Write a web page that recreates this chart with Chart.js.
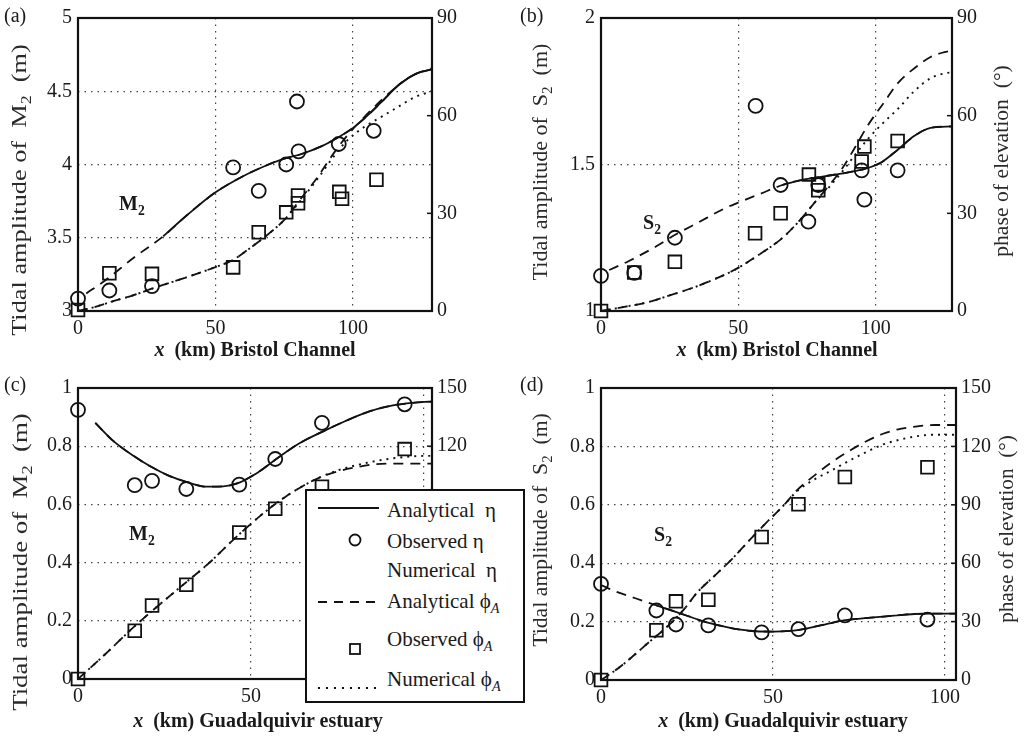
<!DOCTYPE html>
<html>
<head>
<meta charset="utf-8">
<title>Tidal amplitude and phase - Bristol Channel / Guadalquivir</title>
<script src="https://cdn.jsdelivr.net/npm/chart.js@4.4.1/dist/chart.umd.min.js"></script>
<style>
  body { margin:0; background:#fff; }
  #wrap { position:relative; width:1029px; height:737px; overflow:hidden;
          font-family:'Liberation Serif','Times New Roman',serif; color:#1a1a1a; }
  canvas { position:absolute; }
  .t { position:absolute; white-space:nowrap; line-height:1; }
  .sub { font-size:0.68em; position:relative; top:0.38em; }
  .ylab { font-size:21px; color:#2a2a2a; }
  .xlab { font-size:20px; font-weight:bold; }
  .tag { font-size:20px; }
  .ann { font-size:20px; font-weight:bold; }
  #legend { position:absolute; left:305px; top:489px; width:220px; height:214px; box-sizing:border-box;
            border:2px solid #111; background:#fff; }
  #legend .t { font-size:21px; }
</style>
</head>
<body>
<div id="wrap">
  <canvas id="pa" width="515" height="370" style="left:0;top:0"></canvas>
  <canvas id="pb" width="514" height="370" style="left:515px;top:0"></canvas>
  <canvas id="pc" width="515" height="367" style="left:0;top:370px"></canvas>
  <canvas id="pd" width="514" height="367" style="left:515px;top:370px"></canvas>

  <div class="t tag" style="left:4px;top:5px">(a)</div>
  <div class="t tag" style="left:520px;top:5px">(b)</div>
  <div class="t tag" style="left:4px;top:374px">(c)</div>
  <div class="t tag" style="left:520px;top:374px">(d)</div>

  <div class="t ylab" data-c="19,190" data-len="292">Tidal amplitude of&nbsp; M<span class="sub">2</span>&nbsp; (m)</div>
  <div class="t ylab" data-c="540,162" data-len="237">Tidal amplitude of&nbsp; S<span class="sub">2</span>&nbsp; (m)</div>
  <div class="t ylab" data-c="20,562" data-len="298">Tidal amplitude of&nbsp; M<span class="sub">2</span>&nbsp; (m)</div>
  <div class="t ylab" data-c="540,530" data-len="234">Tidal amplitude of&nbsp; S<span class="sub">2</span>&nbsp; (m)</div>
  <div class="t ylab" data-c="1001,161" data-len="192">phase of elevation&nbsp; (°)</div>
  <div class="t ylab" data-c="1006,529" data-len="188">phase of elevation&nbsp; (°)</div>

  <div class="t xlab" data-h="255,349"><i>x</i>&nbsp; (km) Bristol Channel</div>
  <div class="t xlab" data-h="777,349"><i>x</i>&nbsp; (km) Bristol Channel</div>
  <div class="t xlab" data-h="258,720"><i>x</i>&nbsp; (km) Guadalquivir estuary</div>
  <div class="t xlab" data-h="783,720"><i>x</i>&nbsp; (km) Guadalquivir estuary</div>

  <div class="t ann" style="left:119px;top:193px">M<span class="sub">2</span></div>
  <div class="t ann" style="left:643px;top:212px">S<span class="sub">2</span></div>
  <div class="t ann" style="left:129px;top:523px">M<span class="sub">2</span></div>
  <div class="t ann" style="left:654px;top:524px">S<span class="sub">2</span></div>

  <div id="legend">
    <svg width="216" height="210" style="position:absolute;left:0;top:0">
      <line x1="11" y1="17" x2="72" y2="17" stroke="#111" stroke-width="1.8"/>
      <circle cx="48" cy="49" r="5.5" fill="none" stroke="#111" stroke-width="1.8"/>
      <line x1="11" y1="111" x2="72" y2="111" stroke="#111" stroke-width="1.8" stroke-dasharray="9,7"/>
      <rect x="43" y="153" width="10" height="10" fill="none" stroke="#111" stroke-width="1.8"/>
      <line x1="11" y1="197" x2="72" y2="197" stroke="#111" stroke-width="1.8" stroke-dasharray="2,6"/>
    </svg>
    <div class="t" style="left:80px;top:9px">Analytical&nbsp; η</div>
    <div class="t" style="left:80px;top:40px">Observed η</div>
    <div class="t" style="left:80px;top:69px">Numerical&nbsp; η</div>
    <div class="t" style="left:80px;top:100px">Analytical ϕ<span class="sub"><i>A</i></span></div>
    <div class="t" style="left:80px;top:138px">Observed ϕ<span class="sub"><i>A</i></span></div>
    <div class="t" style="left:80px;top:178px">Numerical ϕ<span class="sub"><i>A</i></span></div>
  </div>
</div>

<script>
// ---------- (a) Bristol Channel, M2 ----------
const aObsX    = [0, 11.4, 26.9, 56.4, 65.7, 75.7, 79.6, 80.2, 94.8, 107.5];
const aObsAmp  = [3.085, 3.14, 3.17, 3.98, 3.82, 4.0, 4.43, 4.09, 4.14, 4.23];
const aObsPhX  = [0, 11.4, 26.9, 56.4, 65.7, 75.7, 80, 80, 95, 96, 108.5];
const aObsPh   = [0.3, 11.6, 11.4, 13.4, 24.2, 30.3, 35.5, 33.1, 36.6, 34.5, 40.3];
const aNumAmpX = [3, 10, 20, 31, 40, 50, 60, 68, 75, 81, 88, 95, 100, 105, 110, 117, 123, 128.5];
const aNumAmp  = [3.12, 3.21, 3.36, 3.51, 3.66, 3.81, 3.92, 3.99, 4.04, 4.07, 4.12, 4.19, 4.25, 4.33, 4.42, 4.55, 4.62, 4.65];
const aAnaAmpX = [31, 40, 50, 60, 68, 75, 81, 88, 95, 100, 105, 110, 117, 123, 128.5];
const aAnaAmp  = [3.51, 3.66, 3.81, 3.92, 3.99, 4.04, 4.07, 4.12, 4.19, 4.25, 4.33, 4.42, 4.55, 4.62, 4.65];
const aPhX     = [0, 6, 12, 20, 28, 40, 50, 56, 62, 69, 75, 81, 87, 93, 98, 104, 110, 116, 122, 128.5];
const aAnaPh   = [0, 1.2, 2.8, 4.8, 7.2, 10.5, 13.5, 15.5, 19, 23.5, 28, 34.5, 41, 48.5, 54, 59.5, 64.5, 69, 72.5, 74.5];
const aNumPh   = [0, 1.2, 2.8, 4.8, 7.2, 10.5, 13.5, 15.5, 19, 23.5, 28, 34, 40.5, 47.5, 52.5, 56.5, 59.5, 62.5, 65.5, 67.5];

// ---------- (b) Bristol Channel, S2 ----------
const bObsX    = [0, 12.1, 26.9, 56.3, 65.4, 75.5, 79.1, 94.9, 95.9, 108];
const bObsAmp  = [1.12, 1.13, 1.25, 1.70, 1.43, 1.305, 1.43, 1.48, 1.38, 1.48];
const bObsPhX  = [0, 12.1, 26.9, 56.1, 65.4, 75.7, 79.1, 79.1, 94.9, 95.9, 108];
const bObsPh   = [0, 11.8, 15.1, 23.9, 30, 41.9, 38.9, 37.1, 45.9, 50.5, 52.2];
const bNumAmpX = [3, 10, 20, 27, 35, 45, 50, 58, 66, 72, 78, 85, 90, 96, 102, 108, 114, 120, 127.8];
const bNumAmp  = [1.14, 1.17, 1.22, 1.26, 1.30, 1.35, 1.37, 1.40, 1.43, 1.445, 1.455, 1.465, 1.473, 1.485, 1.507, 1.55, 1.597, 1.625, 1.63];
const bAnaAmpX = [66, 72, 78, 85, 90, 96, 102, 108, 114, 120, 127.8];
const bAnaAmp  = [1.43, 1.445, 1.455, 1.465, 1.473, 1.485, 1.507, 1.55, 1.597, 1.625, 1.63];
const bPhX     = [0, 8, 17, 25, 34, 42, 49, 57, 66, 72, 78, 83, 88, 93, 97, 103, 108, 114, 120, 125, 127.8];
const bAnaPh   = [0, 1.2, 2.7, 4.8, 7.3, 10, 12.8, 17, 22.4, 27.5, 33.5, 38.5, 44, 51, 56.8, 64, 69.9, 74.5, 78, 79.5, 80];
const bNumPh   = [0, 1.2, 2.7, 4.8, 7.3, 10, 12.8, 17, 22.4, 27.5, 33.5, 38, 43, 48.5, 52.7, 58, 62, 67.5, 71.5, 73, 73.3];

// ---------- (c) Guadalquivir, M2 ----------
const cObsX    = [0, 16.4, 21.4, 31.3, 46.6, 57, 70.5, 94.4];
const cObsAmp  = [0.925, 0.666, 0.681, 0.653, 0.668, 0.756, 0.88, 0.944];
const cObsPh   = [0, 24.9, 37.9, 48.6, 75.5, 87.8, 99.1, 118.5];
const cAmpX    = [5, 10, 16, 21, 26, 32, 37, 42, 46, 52, 58, 64, 71, 77, 84, 90, 95, 100, 102.3];
const cAnaAmp  = [0.88, 0.82, 0.767, 0.73, 0.70, 0.675, 0.661, 0.662, 0.672, 0.71, 0.762, 0.81, 0.852, 0.885, 0.919, 0.938, 0.947, 0.952, 0.953];
const cNumAmp  = [0.88, 0.82, 0.767, 0.73, 0.70, 0.675, 0.661, 0.662, 0.672, 0.71, 0.762, 0.81, 0.852, 0.885, 0.919, 0.938, 0.947, 0.952, 0.953];
const cPhX     = [0, 8, 16, 23, 30, 38, 45, 50, 55, 60, 65, 70, 75, 80, 85, 90, 95, 100, 102.3];
const cAnaPh   = [0, 13, 26.6, 37.5, 48, 60, 72, 80, 87.5, 94, 99.5, 104, 107, 109, 110.5, 111, 111, 111, 111];
const cNumPh   = [0, 13, 26.6, 37.5, 48, 60, 72, 80, 87.5, 94, 99.5, 104, 107.5, 110, 112, 113.5, 114.5, 115, 115];

// ---------- (d) Guadalquivir, S2 ----------
const dObsX    = [0, 16.1, 21.8, 31.2, 46.7, 57.4, 70.9, 94.9];
const dObsAmp  = [0.329, 0.238, 0.19, 0.187, 0.163, 0.174, 0.221, 0.207];
const dObsPh   = [0, 25.6, 40.4, 41.2, 73.5, 90.3, 104.3, 109.3];
const dNumAmpX = [0, 5, 10, 15, 20, 25, 30, 35, 40, 45, 50, 55, 60, 65, 71, 76, 81, 86, 91, 96, 103];
const dNumAmp  = [0.325, 0.30, 0.28, 0.26, 0.24, 0.22, 0.20, 0.185, 0.173, 0.167, 0.166, 0.168, 0.177, 0.19, 0.205, 0.211, 0.216, 0.221, 0.226, 0.227, 0.227];
const dAnaAmpX = [16, 20, 25, 30, 35, 40, 45, 50, 55, 60, 65, 71, 76, 81, 86, 91, 96, 103];
const dAnaAmp  = [0.256, 0.24, 0.22, 0.20, 0.185, 0.173, 0.167, 0.166, 0.168, 0.177, 0.19, 0.205, 0.211, 0.216, 0.221, 0.226, 0.227, 0.227];
const dPhX     = [0, 5, 9, 14, 19, 24, 28, 33, 38, 43, 48, 53, 57, 62, 67, 72, 77, 82, 87, 92, 97, 103];
const dAnaPh   = [0, 6, 11.8, 19.5, 27, 36, 45, 53.5, 62, 71.5, 80.7, 89.5, 97.5, 105, 111.8, 117.5, 122.5, 126.5, 129, 130.3, 131, 131];
const dNumPh   = [0, 6, 11.8, 19.5, 27, 36, 45, 53.5, 62, 71.5, 80.7, 89.5, 97, 103, 107.6, 112.5, 117, 121, 123.5, 125.3, 126, 126];

// tick labels
const xTicks      = [0, 50, 100];
const aAmpTicks   = [3, 3.5, 4, 4.5, 5];
const bAmpTicks   = [1, 1.5, 2];
const cdAmpTicks  = [0, 0.2, 0.4, 0.6, 0.8, 1];
const abPhTicks   = [0, 30, 60, 90];
const cdPhTicks   = [0, 30, 60, 90, 120, 150];

const INK = '#111';
const FONT = "'Liberation Serif', 'Times New Roman', serif";

const pts = (xs, ys) => xs.map((x, i) => ({ x: x, y: ys[i] }));

function line(xs, ys, axis, dash, w) {
  return { data: pts(xs, ys), yAxisID: axis, showLine: true, pointRadius: 0,
           borderColor: INK, borderWidth: w || 1.8, borderDash: dash,
           cubicInterpolationMode: 'monotone', fill: false };
}
function marks(xs, ys, axis, style, r) {
  return { data: pts(xs, ys), yAxisID: axis, showLine: false, pointStyle: style,
           pointRadius: r, borderColor: INK, backgroundColor: 'rgba(0,0,0,0)',
           pointBorderWidth: 1.8, clip: false };
}

// frame round the plot and short inward ticks on the right axis
const frame = {
  id: 'frame',
  beforeDatasetsDraw(chart) {
    const { ctx, chartArea: a, scales } = chart;
    ctx.save();
    ctx.strokeStyle = INK;
    ctx.lineWidth = 2.2;
    ctx.strokeRect(a.left, a.top, a.right - a.left, a.bottom - a.top);
    ctx.lineWidth = 1.5;
    scales.y2.ticks.forEach(t => {
      const py = scales.y2.getPixelForValue(t.value);
      ctx.beginPath(); ctx.moveTo(a.right - 5, py); ctx.lineTo(a.right, py); ctx.stroke();
    });
    ctx.restore();
  }
};

function panel(id, o) {
  const tickFont = { family: FONT, size: 20 };
  const fixTicks = arr => s => { s.ticks = arr.map(v => ({ value: v })); };
  new Chart(document.getElementById(id), {
    type: 'scatter',
    data: { datasets: [
      line(o.numAmpX, o.numAmp, 'y', [10, 7]),
      line(o.anaAmpX, o.anaAmp, 'y', []),
      line(o.phX, o.anaPh, 'y2', [10, 7]),
      line(o.phX, o.numPh, 'y2', [2, 5], 1.9),
      marks(o.obsX, o.obsAmp, 'y', 'circle', 7),
      marks(o.obsPhX, o.obsPh, 'y2', 'rect', 9)
    ]},
    options: {
      responsive: false,
      animation: false,
      layout: { padding: { top: o.box.t, left: 0, right: 0, bottom: 0 } },
      plugins: { legend: { display: false }, tooltip: { enabled: false } },
      scales: {
        x: {
          type: 'linear', min: 0, max: o.xMax,
          afterBuildTicks: fixTicks(xTicks),
          afterFit: s => { s.height = o.box.b; },
          ticks: { font: tickFont, color: '#1a1a1a', padding: 6, callback: v => String(v) },
          grid: { color: '#444', lineWidth: 1.2, drawTicks: false },
          border: { display: false, dash: [1.5, 5] }
        },
        y: {
          position: 'left', min: o.yMin, max: o.yMax,
          afterBuildTicks: fixTicks(o.yTicks),
          afterFit: s => { s.width = o.box.l; },
          ticks: { font: tickFont, color: '#1a1a1a', padding: 6, callback: v => String(v) },
          grid: { color: '#444', lineWidth: 1.2, drawTicks: false },
          border: { display: false, dash: [1.5, 5] }
        },
        y2: {
          position: 'right', min: 0, max: o.phMax,
          afterBuildTicks: fixTicks(o.phTicks),
          afterFit: s => { s.width = o.box.r; },
          ticks: { font: tickFont, color: '#1a1a1a', padding: 5, callback: v => String(v) },
          grid: { display: false, drawTicks: false },
          border: { display: false }
        }
      }
    },
    plugins: [frame]
  });
}

panel('pa', { box: { l: 78, r: 83, t: 13, b: 59 }, xMax: 128.7,
  yMin: 3, yMax: 5, yTicks: aAmpTicks, phMax: 90, phTicks: abPhTicks,
  obsX: aObsX, obsAmp: aObsAmp, obsPhX: aObsPhX, obsPh: aObsPh,
  numAmpX: aNumAmpX, numAmp: aNumAmp, anaAmpX: aAnaAmpX, anaAmp: aAnaAmp,
  phX: aPhX, anaPh: aAnaPh, numPh: aNumPh });

panel('pb', { box: { l: 86, r: 77, t: 13, b: 59 }, xMax: 127.8,
  yMin: 1, yMax: 2, yTicks: bAmpTicks, phMax: 90, phTicks: abPhTicks,
  obsX: bObsX, obsAmp: bObsAmp, obsPhX: bObsPhX, obsPh: bObsPh,
  numAmpX: bNumAmpX, numAmp: bNumAmp, anaAmpX: bAnaAmpX, anaAmp: bAnaAmp,
  phX: bPhX, anaPh: bAnaPh, numPh: bNumPh });

panel('pc', { box: { l: 78, r: 83, t: 13, b: 58 }, xMax: 102.3,
  yMin: 0, yMax: 1, yTicks: cdAmpTicks, phMax: 150, phTicks: cdPhTicks,
  obsX: cObsX, obsAmp: cObsAmp, obsPhX: cObsX, obsPh: cObsPh,
  numAmpX: cAmpX, numAmp: cNumAmp, anaAmpX: cAmpX, anaAmp: cAnaAmp,
  phX: cPhX, anaPh: cAnaPh, numPh: cNumPh });

panel('pd', { box: { l: 86, r: 73, t: 13, b: 57 }, xMax: 103.2,
  yMin: 0, yMax: 1, yTicks: cdAmpTicks, phMax: 150, phTicks: cdPhTicks,
  obsX: dObsX, obsAmp: dObsAmp, obsPhX: dObsX, obsPh: dObsPh,
  numAmpX: dNumAmpX, numAmp: dNumAmp, anaAmpX: dAnaAmpX, anaAmp: dAnaAmp,
  phX: dPhX, anaPh: dAnaPh, numPh: dNumPh });

// place the axis titles
document.querySelectorAll('[data-c]').forEach(el => {
  const [cx, cy] = el.dataset.c.split(',').map(Number);
  const k = Number(el.dataset.len) / el.offsetWidth;
  el.style.left = cx + 'px';
  el.style.top = cy + 'px';
  el.style.transform = 'translate(-50%,-50%) rotate(-90deg) scaleX(' + k.toFixed(3) + ')';
});
document.querySelectorAll('[data-h]').forEach(el => {
  const [cx, cy] = el.dataset.h.split(',').map(Number);
  el.style.left = cx + 'px';
  el.style.top = cy + 'px';
  el.style.transform = 'translate(-50%,-50%)';
});
</script>
</body>
</html>
